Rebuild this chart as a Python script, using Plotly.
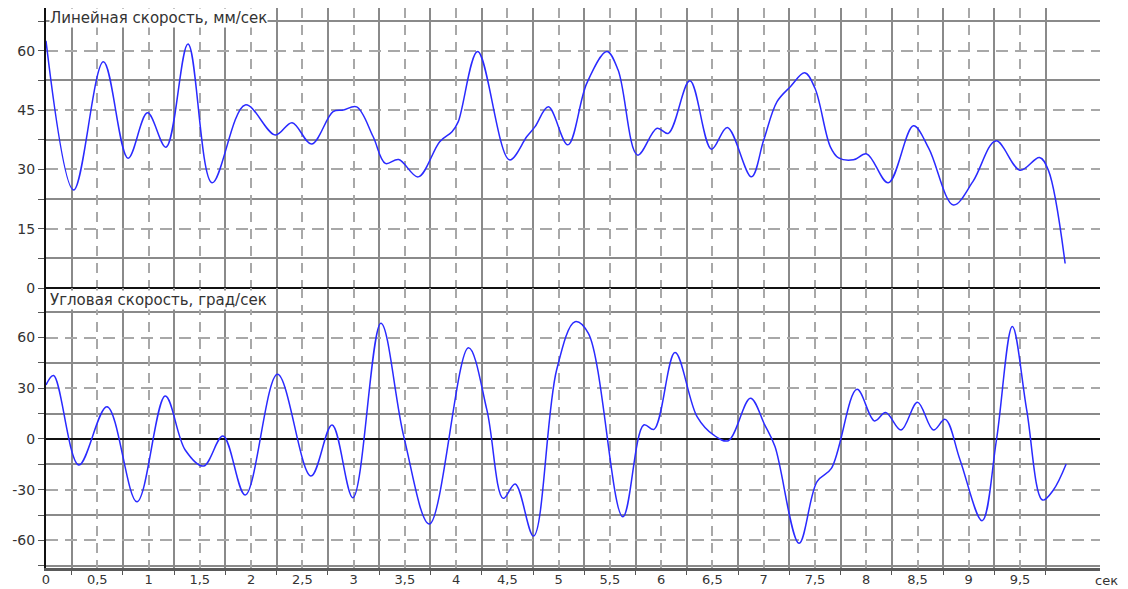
import plotly.graph_objects as go

# ---- data ----
t_lin = [0, 0.27, 0.56, 0.80, 0.99, 1.17, 1.385, 1.62, 1.943, 2.236, 2.40, 2.59, 2.80, 2.90,
         3.03, 3.19, 3.31, 3.44, 3.63, 3.84, 3.96, 4.02, 4.21, 4.52, 4.69, 4.77, 4.90, 5.09,
         5.275, 5.47, 5.58, 5.77, 5.96, 6.07, 6.28, 6.49, 6.645, 6.88, 7.00, 7.13, 7.26, 7.40,
         7.50, 7.65, 7.73, 7.875, 8.005, 8.215, 8.46, 8.61, 8.85, 9.04, 9.265, 9.50, 9.69,
         9.776, 9.94]
v_lin = [62.5, 24.8, 57.2, 32.8, 44.3, 35.6, 61.7, 26.6, 46.3, 38.7, 41.8, 36.4, 44.6, 45.0,
         45.8, 38.3, 31.5, 32.5, 28.1, 37.0, 39.5, 42.0, 59.8, 32.4, 38.3, 40.8, 45.8, 36.2,
         51.8, 59.8, 55.1, 33.6, 40.4, 39.1, 52.4, 35.1, 40.6, 28.1, 37.4, 47.1, 50.9, 54.4,
         50.5, 35.7, 32.9, 32.4, 33.9, 26.6, 41.0, 35.3, 21.0, 26.9, 37.2, 29.8, 33.0,
         29.8, 6.2]

t_ang = [0, 0.074, 0.32, 0.595, 0.887, 1.163, 1.358, 1.537, 1.726, 1.943, 2.258, 2.584, 2.79,
         2.993, 3.266, 3.49, 3.74, 4.12, 4.30, 4.46, 4.576, 4.755, 4.98, 5.16, 5.29, 5.626,
         5.83, 5.93, 6.135, 6.35, 6.51, 6.655, 6.87, 7.01, 7.11, 7.345, 7.52, 7.66, 7.91,
         8.08, 8.19, 8.34, 8.50, 8.655, 8.77, 8.915, 9.13, 9.27, 9.425, 9.565, 9.72, 9.825,
         9.95]
v_ang = [32, 37.5, -15.4, 19.1, -37.1, 25.4, -6.5, -16.0, 1.8, -33.1, 38.3, -21.9, 8.3,
         -34.7, 68.5, 1.4, -50.3, 54.0, 17.2, -35.1, -26.6, -57.4, 40.8, 69.4, 62.5, -46.0,
         8.3, 5.7, 51.1, 13.2, 2.4, -1.0, 24.1, 8.3, -4.5, -61.7, -25.2, -17.4, 29.4,
         10.7, 15.6, 5.3, 21.7, 5.3, 11.6, -12.4, -48.3, -0.6, 66.5, 17.2, -36.1, -30.2,
         -14.8]

x_major = [i * 0.5 for i in range(20)]            # 0 .. 9.5 (dashed, labelled)
x_labels = ["0" if v == 0 else (f"{v:g}".replace(".", ",")) for v in x_major]
x_minor = [0.25 + i * 0.5 for i in range(20)]     # 0.25 .. 9.75 (solid)

y1_major = [0, 15, 30, 45, 60]
y1_labels = [str(v) for v in y1_major]
y1_minor = [7.5, 22.5, 37.5, 52.5, 67.5]
y2_major = [-60, -30, 0, 30, 60]
y2_labels = [str(v) for v in y2_major]            # plain hyphen-minus, as in the original
y2_minor = [-75, -45, -15, 15, 45, 75]

title_top = "Линейная скорость, мм/сек"
title_bot = "Угловая скорость, град/сек"
x_unit = "сек"

# ---- styles ----
LINE = "#2a2aff"
SOLID = "#8a8a8a"
DASH = "#a8a8a8"
TICKFONT = dict(family="DejaVu Sans, Verdana, sans-serif", size=14, color="#333333")
XTICKFONT = dict(family="DejaVu Sans, Verdana, sans-serif", size=13, color="#333333")
TITLEFONT = dict(family="DejaVu Sans, Verdana, sans-serif", size=15, color="#333333")

fig = go.Figure()
fig.add_trace(go.Scatter(x=t_lin, y=v_lin, mode="lines", xaxis="x", yaxis="y",
                         line=dict(color=LINE, width=1.5, shape="spline", smoothing=1.0),
                         hoverinfo="skip", showlegend=False))
fig.add_trace(go.Scatter(x=t_ang, y=v_ang, mode="lines", xaxis="x2", yaxis="y2",
                         line=dict(color=LINE, width=1.5, shape="spline", smoothing=1.0),
                         hoverinfo="skip", showlegend=False))

XR = [0, 10.28]
common_x = dict(range=XR, tickmode="array", tickvals=x_major, ticktext=x_labels,
                showgrid=True, gridcolor=DASH, gridwidth=1.5, griddash="10px,7px",
                zeroline=False, automargin=False)

common_y = dict(tickmode="array", ticks="outside", ticklen=6, tickcolor="#555555",
                showgrid=True, gridcolor=DASH, gridwidth=1.5, griddash="12px,7px",
                zeroline=True, zerolinecolor="#111111", zerolinewidth=1.5,
                showline=True, linecolor="#111111", linewidth=2, tickfont=TICKFONT,
                automargin=False)

# the page body adds an 8px offset, so the figure is sized to the visible area
fig.update_layout(
    width=1120, height=581,
    margin=dict(l=38, r=28, t=0, b=21),
    paper_bgcolor="white", plot_bgcolor="white",
    separators=", ",
    font=TICKFONT,
    xaxis=dict(common_x, domain=[0, 1], anchor="y", showticklabels=False,
               showline=False, ticks="", matches="x2",
               minor=dict(tickmode="array", tickvals=x_minor, showgrid=True,
                          gridcolor=SOLID, gridwidth=1.5, griddash="solid")),
    xaxis2=dict(common_x, domain=[0, 1], anchor="y2", showticklabels=True,
                showline=True, linecolor="#5a5a5a", linewidth=3, ticks="",
                tickfont=XTICKFONT, ticklabelstandoff=-3,
                minor=dict(tickmode="array", tickvals=x_minor, showgrid=True,
                           gridcolor=SOLID, gridwidth=1.5, griddash="solid",
                           ticks="outside", ticklen=4, tickcolor="#555555")),
    yaxis=dict(common_y, domain=[0.5, 1], anchor="x", range=[0, 70.8],
               tickvals=y1_major, ticktext=y1_labels,
               minor=dict(tickmode="array", tickvals=y1_minor, showgrid=True,
                          gridcolor=SOLID, gridwidth=1.5, griddash="solid",
                          ticks="outside", ticklen=6, tickcolor="#555555")),
    yaxis2=dict(common_y, domain=[0, 0.5], anchor="x2", range=[-76.3, 89.3],
                tickvals=y2_major, ticktext=y2_labels,
                minor=dict(tickmode="array", tickvals=y2_minor, showgrid=True,
                           gridcolor=SOLID, gridwidth=1.5, griddash="solid",
                           ticks="outside", ticklen=6, tickcolor="#555555")),
    annotations=[
        dict(text=title_top, xref="paper", yref="paper", x=0.003, y=1.0,
             xanchor="left", yanchor="top", showarrow=False, bgcolor="white",
             font=TITLEFONT, borderpad=0),
        dict(text=title_bot, xref="paper", yref="paper", x=0.003, y=0.497,
             xanchor="left", yanchor="top", showarrow=False, bgcolor="white",
             font=TITLEFONT, borderpad=0),
        dict(text=x_unit, xref="paper", yref="paper", x=0.993, y=0,
             xanchor="left", yanchor="top", yshift=-3, showarrow=False, font=XTICKFONT),
    ],
)

fig.write_html("out.html")
